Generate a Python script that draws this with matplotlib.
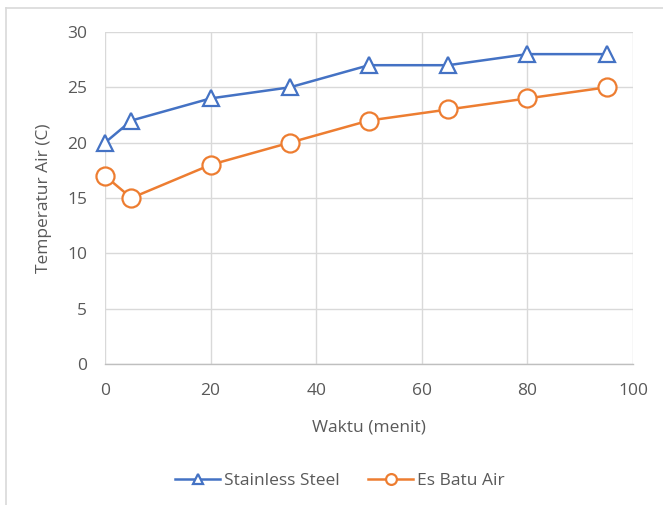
import matplotlib
matplotlib.use("Agg")
import matplotlib.pyplot as plt

plt.rcParams['font.family'] = ['Open Sans', 'DejaVu Sans']

waktu = [0, 5, 20, 35, 50, 65, 80, 95]
stainless_steel = [20, 22, 24, 25, 27, 27, 28, 28]
es_batu_air = [17, 15, 18, 20, 22, 23, 24, 25]
x_ticks = [0, 20, 40, 60, 80, 100]
y_ticks = [0, 5, 10, 15, 20, 25, 30]

blue = '#4472C4'
orange = '#ED7D31'
text_gray = '#595959'
grid_gray = '#D9D9D9'
fs = 12.5

fig = plt.figure(figsize=(6.63, 5.05), dpi=100)
fig.patch.set_facecolor('white')

# chart frame (top and left edges visible)
fig.add_artist(plt.Line2D([6/663, 1.0], [1-8/505, 1-8/505], color='#D9D9D9', lw=1.2,
                          transform=fig.transFigure))
fig.add_artist(plt.Line2D([6/663, 6/663], [0, 1-8/505], color='#D9D9D9', lw=1.2,
                          transform=fig.transFigure))

ax = fig.add_axes([105/663, 1-364/505, (633-105)/663, (364-32)/505])
ax.set_xlim(0, 100)
ax.set_ylim(0, 30)
ax.set_xticks(x_ticks)
ax.set_yticks(y_ticks)
ax.grid(True, color=grid_gray, lw=1.0)
ax.set_axisbelow(True)
for s in ['top', 'right', 'left']:
    ax.spines[s].set_visible(False)
ax.spines['bottom'].set_color('#BFBFBF')
ax.spines['bottom'].set_linewidth(1.0)
ax.tick_params(length=0, labelsize=fs, labelcolor=text_gray)
ax.tick_params(axis='y', pad=13)
ax.tick_params(axis='x', pad=14)

ax.plot(waktu, stainless_steel, color=blue, lw=1.8, marker='^', ms=12,
        mfc='white', mec=blue, mew=1.6, label='Stainless Steel', zorder=3,
        clip_on=False)
ax.plot(waktu, es_batu_air, color=orange, lw=1.8, marker='o', ms=13,
        mfc='white', mec=orange, mew=1.6, label='Es Batu Air', zorder=3,
        clip_on=False)

ax.set_xlabel('Waktu (menit)', fontsize=fs, color=text_gray)
ax.set_ylabel('Temperatur Air (C)', fontsize=fs, color=text_gray)
ax.xaxis.set_label_coords(0.5, -(428-364)/332, transform=ax.transAxes)
ax.yaxis.set_label_coords(-(105-44)/528, 0.5)
ax.xaxis.label.set_va('center')
ax.yaxis.label.set_va('center')

leg = fig.legend(loc='center', bbox_to_anchor=(340/663, 1-481/505), ncol=2,
                 frameon=False, fontsize=fs, handlelength=2.6, columnspacing=1.6,
                 handletextpad=0.25, markerscale=0.6)
for t in leg.get_texts():
    t.set_color(text_gray)

fig.savefig('out.png', dpi=100, facecolor='white')
